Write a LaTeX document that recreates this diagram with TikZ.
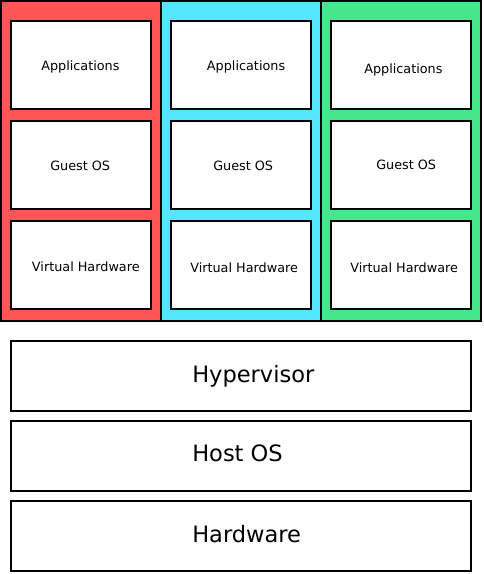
\documentclass[tikz,border=0pt]{standalone}
\usepackage{fontspec}
\setmainfont{DejaVu Sans}
\definecolor{cred}{RGB}{255,85,85}
\definecolor{ccyan}{RGB}{85,229,255}
\definecolor{cgreen}{RGB}{70,230,140}
\begin{document}
\begin{tikzpicture}[x=0.75pt,y=-0.75pt,
  col/.style={draw=black,line width=1.5pt},
  inner/.style={draw=black,fill=white,line width=1.5pt},
  small/.style={font=\fontsize{9.6pt}{11pt}\selectfont,inner sep=0pt,anchor=base west},
  big/.style={font=\fontsize{16.9pt}{20pt}\selectfont,inner sep=0pt,anchor=base west}]
\useasboundingbox (0,0) rectangle (484,574);
% columns
\draw[col,fill=cred] (1,1) rectangle (161,321);
\draw[col,fill=ccyan] (161,1) rectangle (321,321);
\draw[col,fill=cgreen] (321,1) rectangle (481,321);
% red column
\draw[inner] (11,21) rectangle (151,109);
\draw[inner] (11,121) rectangle (151,209);
\draw[inner] (11,221) rectangle (151,309);
\node[small] (ra) at (41,70.7) {Applications};
\node[small] (rg) at (50,170.7) {Guest OS};
\node[small] (rv) at (31.7,271) {Virtual Hardware};
% cyan column
\draw[inner] (171,21) rectangle (311,109);
\draw[inner] (171,121) rectangle (311,209);
\draw[inner] (171,221) rectangle (311,309);
\node[small] (ca) at (206.7,70.7) {Applications};
\node[small] (cg) at (213,170.7) {Guest OS};
\node[small] (cv) at (190,272) {Virtual Hardware};
% green column
\draw[inner] (331,21) rectangle (471,109);
\draw[inner] (331,121) rectangle (471,209);
\draw[inner] (331,221) rectangle (471,309);
\node[small] (ga) at (364,73.3) {Applications};
\node[small] (gg) at (376,169) {Guest OS};
\node[small] (gv) at (350,272) {Virtual Hardware};
% bottom layers
\draw[inner] (11,341) rectangle (471,411);
\draw[inner] (11,421) rectangle (471,491);
\draw[inner] (11,501) rectangle (471,571);
\node[big] (hv) at (192,382) {Hypervisor};
\node[big] (ho) at (192,461) {Host OS};
\node[big] (hw) at (192,542) {Hardware};
\end{tikzpicture}
\end{document}
